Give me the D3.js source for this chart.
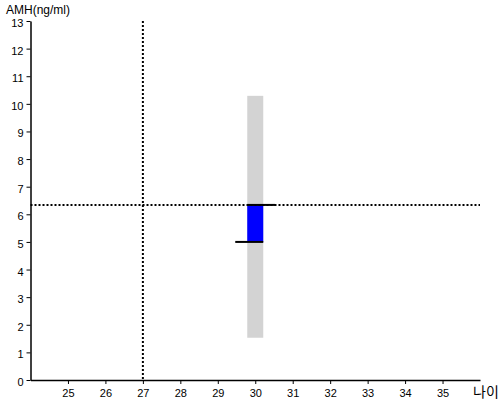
<!DOCTYPE html>
<html>
<head>
<meta charset="utf-8">
<script src="https://cdn.jsdelivr.net/npm/d3@7"></script>
<style>
  body { margin: 0; background: #fff; }
  svg { display: block; font-family: "Liberation Sans", Arial, sans-serif; }
</style>
</head>
<body>
<div id="chart"></div>
<script>
// reference lines
const refAge = 27;
const refAmh = 6.34;

// age of the patient and the ranges drawn at it
const ageValue = 30;
const normalRange = [1.53, 10.29];   // grey band
const measuredRange = [5.0, 6.34];   // blue box

const xTicks = [25, 26, 27, 28, 29, 30, 31, 32, 33, 34, 35];
const yTicks = [0, 1, 2, 3, 4, 5, 6, 7, 8, 9, 10, 11, 12, 13];

const width = 500, height = 400;
const svg = d3.select('#chart').append('svg')
  .attr('width', width)
  .attr('height', height);

const x = d3.scaleLinear().domain([24, 36]).range([30.5, 480]);
const y = d3.scaleLinear().domain([0, 13]).range([380, 21]);

// grey normal range band
const barW = 16;
svg.append('rect')
  .attr('x', x(ageValue) - barW / 2)
  .attr('y', y(normalRange[1]))
  .attr('width', barW)
  .attr('height', y(normalRange[0]) - y(normalRange[1]))
  .attr('fill', '#d3d3d3');

// blue box
svg.append('rect')
  .attr('x', x(ageValue) - barW / 2)
  .attr('y', y(measuredRange[1]))
  .attr('width', barW)
  .attr('height', y(measuredRange[0]) - y(measuredRange[1]))
  .attr('fill', '#0000ff');

// dotted reference lines
svg.append('line')
  .attr('x1', x(refAge)).attr('x2', x(refAge))
  .attr('y1', y(13)).attr('y2', y(0))
  .attr('stroke', '#000').attr('stroke-width', 2)
  .attr('stroke-dasharray', '2,2');

svg.append('line')
  .attr('x1', x(24)).attr('x2', x(36))
  .attr('y1', y(refAmh)).attr('y2', y(refAmh))
  .attr('stroke', '#000').attr('stroke-width', 2)
  .attr('stroke-dasharray', '2,2');

// top / bottom caps
svg.append('line')
  .attr('x1', x(ageValue) - barW / 2).attr('x2', x(ageValue) + barW / 2 + 12)
  .attr('y1', y(measuredRange[1])).attr('y2', y(measuredRange[1]))
  .attr('stroke', '#000').attr('stroke-width', 2);

svg.append('line')
  .attr('x1', x(ageValue) - barW / 2 - 12).attr('x2', x(ageValue) + barW / 2)
  .attr('y1', y(measuredRange[0])).attr('y2', y(measuredRange[0]))
  .attr('stroke', '#000').attr('stroke-width', 2);

// axes
const xAxis = svg.append('g')
  .attr('transform', `translate(0,${y(0)})`)
  .call(d3.axisBottom(x).tickValues(xTicks).tickSize(4).tickSizeOuter(0));

const yAxis = svg.append('g')
  .attr('transform', `translate(${x(24)},0)`)
  .call(d3.axisLeft(y).tickValues(yTicks).tickSize(4).tickSizeOuter(0));

[xAxis, yAxis].forEach(g => {
  g.select('.domain').attr('stroke', '#000').attr('stroke-width', 1.5);
  g.selectAll('.tick line').attr('stroke', '#000');
  g.selectAll('text').attr('font-size', 11).attr('fill', '#000')
    .attr('font-family', '"Liberation Sans", Arial, sans-serif');
});
xAxis.selectAll('text').attr('dy', '0.9em');
yAxis.selectAll('text').attr('dy', '0.5em');

svg.append('text')
  .attr('x', 6).attr('y', 14)
  .attr('font-size', 12)
  .text('AMH(ng/ml)');

svg.append('text')
  .attr('x', 473).attr('y', 397)
  .attr('font-size', 14)
  .attr('font-family', '"Noto Sans CJK KR", sans-serif')
  .text('나이');
</script>
</body>
</html>
